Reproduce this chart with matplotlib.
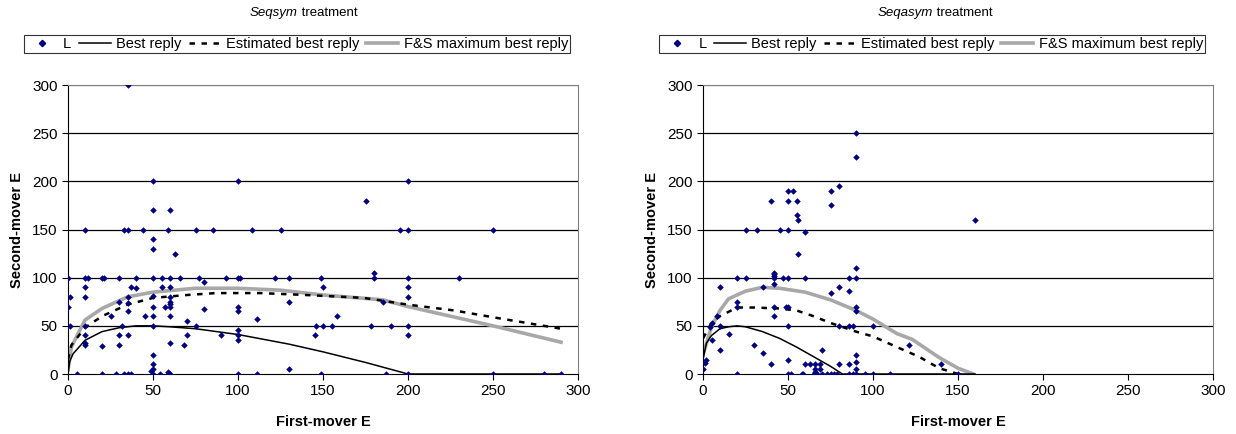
import matplotlib
matplotlib.use("Agg")
import matplotlib.pyplot as plt
from matplotlib.lines import Line2D

plt.rcParams['font.family'] = ['Liberation Sans', 'DejaVu Sans']

# ---- Seqsym treatment ----
sym_x = [35, 50, 100, 200, 50, 60, 175,
         10, 33, 35, 44, 59, 75, 85, 108, 125, 195, 200, 250,
         50, 50, 63, 180,
         0, 10, 12, 20, 21, 30, 40, 50, 55, 60, 66, 77, 93, 100, 101, 122, 130, 149, 180, 200, 230,
         80, 10, 37, 40, 55, 60, 150, 200,
         1, 10, 35, 50, 60, 200,
         30, 60, 35, 60, 130, 185,
         0, 50, 57, 60, 100, 80, 35, 100,
         25, 45, 50, 60, 158, 70, 111,
         1, 10, 32, 50, 75, 146, 150, 155, 178, 190, 200,
         100, 100, 100, 200,
         10, 30, 35, 70, 90, 145,
         10, 10, 60, 20, 30, 68,
         50, 50, 50, 130, 49, 59,
         5, 20, 28, 33, 35, 37, 50, 54, 59, 60, 100, 111, 149, 187, 200, 250, 280, 290]
sym_y = [300, 200, 200, 200, 170, 170, 180,
         150, 150, 150, 150, 150, 150, 150, 150, 150, 150, 150, 150,
         140, 130, 125, 105,
         100, 100, 100, 100, 100, 100, 100, 100, 100, 100, 100, 100, 100, 100, 100, 100, 100, 100, 100, 100, 100,
         95, 90, 90, 89, 90, 90, 90, 90,
         80, 80, 80, 81, 80, 80,
         75, 75, 74, 73, 75, 75,
         70, 70, 70, 70, 70, 67, 65, 65,
         60, 60, 60, 60, 60, 55, 57,
         50, 50, 50, 50, 50, 50, 50, 50, 50, 50, 50,
         46, 40, 35, 40,
         40, 40, 40, 40, 40, 40,
         32, 30, 32, 29, 30, 30,
         20, 10, 5, 5, 3, 2,
         0, 0, 0, 0, 0, 0, 0, 0, 0, 0, 0, 0, 0, 0, 0, 0, 0, 0]

sym_br_x = [0, 1, 3, 10, 20, 30, 40, 50, 60, 75, 100, 130, 150, 175, 200, 290]
sym_br_y = [0, 13, 21, 35, 44, 48, 50, 50, 49, 47, 41, 31, 23, 12, 0, 0]
sym_est_x = [0, 2, 10, 20, 35, 50, 70, 87, 113, 140, 174, 200, 227, 253, 290]
sym_est_y = [15, 30, 48, 60, 72, 79, 82, 84, 84, 82, 79, 72, 66, 58, 47]
sym_fs_x = [0, 2, 10, 20, 35, 50, 75, 100, 125, 150, 185, 200, 250, 290]
sym_fs_y = [4, 28, 56, 68, 80, 85, 89, 89, 87, 82, 77, 70, 50, 33]

# ---- Seqasym treatment ----
asym_x = [90, 90, 80, 75, 75, 40, 50, 53, 50, 55, 55, 56, 60, 56, 160,
          25, 32, 45, 50,
          42, 42, 42, 90,
          20, 25, 42, 47, 50, 60, 86, 90,
          42, 10, 35, 80, 86, 75,
          20, 20, 42, 49, 50, 90, 90, 42, 8, 5, 4,
          10, 50, 80, 86, 88, 100,
          5, 10, 15, 30, 35, 40, 70, 2, 1, 0, 50, 90, 90, 90, 121, 140,
          60, 63, 66, 69, 80, 86, 66, 69, 66,
          20, 50, 52, 58, 59, 65, 67, 70, 73, 75, 77, 79, 86, 88, 90, 95, 100, 110, 150]
asym_y = [250, 225, 195, 190, 175, 180, 190, 190, 180, 180, 165, 160, 147, 125, 160,
          150, 150, 150, 150,
          105, 104, 102, 110,
          100, 100, 100, 100, 100, 100, 100, 100,
          93, 90, 90, 90, 86, 84,
          75, 70, 70, 70, 70, 70, 65, 60, 60, 53, 49,
          50, 50, 50, 50, 50, 50,
          35, 25, 42, 30, 22, 10, 25, 15, 11, 5, 15, 20, 12, 5, 30, 10,
          10, 10, 10, 10, 10, 10, 5, 5, 2,
          0, 0, 0, 0, 0, 0, 0, 0, 0, 0, 0, 0, 0, 0, 0, 0, 0, 0, 0]

asym_br_x = [0, 2, 5, 10, 15, 20, 25, 35, 45, 55, 65, 75, 82, 160]
asym_br_y = [15, 32, 40, 47, 49, 50, 49, 44, 37, 28, 18, 8, 0, 0]
asym_est_x = [0, 5, 10, 20, 30, 45, 55, 65, 75, 90, 100, 114, 127, 139, 150]
asym_est_y = [37, 53, 60, 69, 69, 68, 66, 60, 53, 44, 39, 28, 18, 6, 0]
asym_fs_x = [0, 5, 10, 15, 25, 35, 45, 60, 75, 90, 100, 114, 123, 139, 150, 159]
asym_fs_y = [20, 49, 66, 78, 86, 90, 89, 85, 77, 66, 57, 42, 36, 17, 6, 0]

navy = '#000080'
gray = '#a8a8a8'

fig = plt.figure(figsize=(12.36, 4.34), dpi=100)


def panel(rect, name, sx, sy, bx, by, ex, ey, fx, fy, legx):
    ax = fig.add_axes(rect)
    ax.set_xlim(0, 300)
    ax.set_ylim(0, 300)
    ax.set_xticks(range(0, 301, 50))
    ax.set_yticks(range(0, 301, 50))
    for v in range(50, 301, 50):
        ax.axhline(v, color='black' if v < 300 else '#808080', lw=0.9, zorder=0)
    ax.scatter(sx, sy, marker='D', s=11, color=navy, zorder=3, linewidths=0)
    ax.plot(fx, fy, color=gray, lw=2.6, zorder=2)
    ax.plot(ex, ey, color='black', lw=1.8, dashes=(2.2, 2.6), zorder=2)
    ax.plot(bx, by, color='black', lw=1.1, zorder=2)
    for s in ['top', 'right']:
        ax.spines[s].set_color('#808080')
    for s in ['left', 'bottom']:
        ax.spines[s].set_color('black')
    ax.tick_params(direction='out', length=4, width=0.8, labelsize=11)
    ax.set_xlabel('First-mover E', fontsize=10.5, fontweight='bold', labelpad=12)
    ax.set_ylabel('Second-mover E', fontsize=10.5, fontweight='bold', labelpad=6)
    fig.text(legx + 1 / 1236, 1 - 13 / 434, name, style='italic', fontsize=9.5, ha='right', va='center')
    fig.text(legx + 1 / 1236, 1 - 13 / 434, ' treatment', fontsize=9.5, ha='left', va='center')
    handles = [Line2D([], [], marker='D', ms=3.2, color=navy, ls='none'),
               Line2D([], [], color='black', lw=1.1),
               Line2D([], [], color='black', lw=1.8, dashes=(2.2, 2.6)),
               Line2D([], [], color=gray, lw=2.6)]
    labels = ['L', 'Best reply', 'Estimated best reply', 'F&S maximum best reply']
    leg = fig.legend(handles, labels, ncol=4, loc='center',
                     bbox_to_anchor=(legx, 1 - 44 / 434), fontsize=10.5,
                     frameon=True, fancybox=False, edgecolor='black',
                     handlelength=2.2, handletextpad=0.35, columnspacing=0.5,
                     borderpad=0.15, borderaxespad=0)
    leg.get_frame().set_linewidth(0.8)
    return ax


panel([68 / 1236, 1 - 374 / 434, 510 / 1236, 289 / 434], 'Seqsym',
      sym_x, sym_y, sym_br_x, sym_br_y, sym_est_x, sym_est_y, sym_fs_x, sym_fs_y,
      297 / 1236)
panel([703 / 1236, 1 - 374 / 434, 510 / 1236, 289 / 434], 'Seqasym',
      asym_x, asym_y, asym_br_x, asym_br_y, asym_est_x, asym_est_y, asym_fs_x, asym_fs_y,
      932 / 1236)

fig.savefig('out.png', dpi=100)
